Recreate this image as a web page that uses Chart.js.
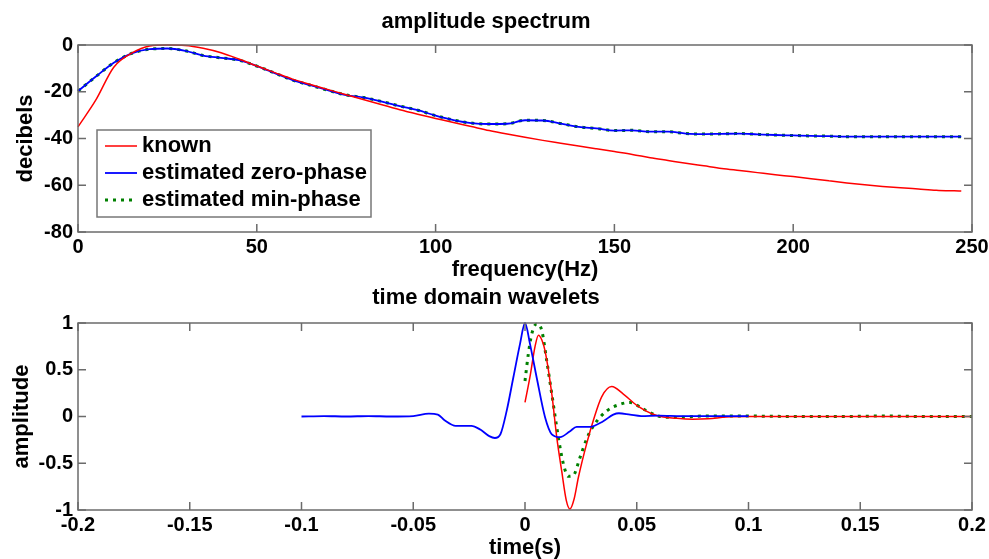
<!DOCTYPE html>
<html>
<head>
<meta charset="utf-8">
<title>amplitude spectrum / time domain wavelets</title>
<script src="https://cdn.jsdelivr.net/npm/chart.js@4.4.1/dist/chart.umd.min.js"></script>
<style>
  html, body { margin: 0; padding: 0; background: #fff; overflow: hidden; }
  #wrap { position: relative; width: 989px; height: 559px; overflow: hidden; }
  canvas { position: absolute; left: 0; }
  #spec { top: 0; }
  #wave { top: 280px; }
</style>
</head>
<body>
<div id="wrap">
  <canvas id="spec" width="989" height="290"></canvas>
  <canvas id="wave" width="989" height="281"></canvas>
</div>
<script>
/* ------------------------------
   Series names / colours
   ------------------------------ */
const seriesNames = ['known', 'estimated zero-phase', 'estimated min-phase'];
const seriesColors = ['#ff0000', '#0000ff', '#008000'];

/* Amplitude spectrum (dB vs Hz) */
const freqHz = [0, 5, 10, 15, 20, 25, 30, 35, 40, 45, 50, 55, 60, 65, 70, 75, 80, 85, 90, 95,
  100, 105, 110, 115, 120, 125, 130, 135, 140, 145, 150, 155, 160, 165, 170, 175, 180, 185, 190, 195,
  200, 205, 210, 215, 220, 225, 230, 235, 240, 245, 247];
const knownDb = [-35, -23.5, -9.5, -3.5, -0.4, 0, -0.2, -1.4, -3.3, -6, -9, -11.8, -14.6, -16.9, -19.1, -21.3, -23.4, -25.6, -27.7, -29.6,
  -31.4, -33.2, -34.9, -36.6, -38.1, -39.5, -40.8, -42, -43.2, -44.4, -45.6, -46.8, -48.2, -49.4, -50.6, -51.7, -52.8, -53.7, -54.6, -55.5,
  -56.3, -57.2, -58.1, -59, -59.8, -60.5, -61.1, -61.6, -62.1, -62.4, -62.5];
const zeroPhaseDb = [-19.7, -13.5, -7.6, -3.6, -1.8, -1.5, -2.5, -4.5, -5.5, -6.5, -9, -12, -15, -17.2, -19.4, -21.4, -22.5, -24.2, -26.1, -27.9,
  -30.2, -32.1, -33.4, -33.8, -33.7, -32.2, -32.3, -33.6, -35, -35.7, -36.6, -36.5, -37.1, -37.1, -37.9, -38.1, -38, -37.9, -38.2, -38.5,
  -38.7, -38.9, -39, -39.2, -39.2, -39.2, -39.2, -39.2, -39.2, -39.2, -39.2];
const minPhaseDb = [-19.7, -13.5, -7.6, -3.6, -1.8, -1.5, -2.5, -4.5, -5.5, -6.5, -9, -12, -15, -17.2, -19.4, -21.4, -22.5, -24.2, -26.1, -27.9,
  -30.2, -32.1, -33.4, -33.8, -33.7, -32.2, -32.3, -33.6, -35, -35.7, -36.6, -36.5, -37.1, -37.1, -37.9, -38.1, -38, -37.9, -38.2, -38.5,
  -38.7, -38.9, -39, -39.2, -39.2, -39.2, -39.2, -39.2, -39.2, -39.2, -39.2];
const freqTicks = [0, 50, 100, 150, 200, 250];
const dbTicks = [-80, -60, -40, -20, 0];

/* Time domain wavelets */
const knownT = [0, 0.0022, 0.0045, 0.006, 0.0075, 0.009, 0.012, 0.0142, 0.0164, 0.0185, 0.0201, 0.022, 0.0239, 0.0276, 0.0306,
  0.0343, 0.0388, 0.044, 0.05, 0.059, 0.068, 0.075, 0.082, 0.09, 0.1, 0.12, 0.14, 0.16, 0.18, 0.2];
const knownAmp = [0.15, 0.42, 0.75, 0.87, 0.82, 0.7, 0.24, -0.22, -0.58, -0.9, -0.99, -0.88, -0.65, -0.29, -0.04,
  0.21, 0.32, 0.24, 0.12, 0.01, -0.02, -0.03, -0.025, -0.005, 0, 0, 0, 0, 0, 0];
const zeroT = [-0.1, -0.09, -0.08, -0.07, -0.06, -0.05, -0.043, -0.039, -0.036, -0.031, -0.024, -0.02, -0.016, -0.0135, -0.011,
  -0.0082, -0.0052, -0.0022, 0, 0.0022, 0.0052, 0.009, 0.012, 0.0157, 0.02, 0.0231, 0.029, 0.035, 0.0395, 0.042,
  0.047, 0.052, 0.06, 0.07, 0.08, 0.09, 0.1];
const zeroAmp = [0, 0.005, 0, 0.005, 0, 0.005, 0.03, 0.02, -0.04, -0.1, -0.1, -0.14, -0.21, -0.23, -0.19,
  0.06, 0.42, 0.78, 1, 0.78, 0.42, -0.01, -0.19, -0.22, -0.16, -0.11, -0.11, -0.05, 0.02, 0.035,
  0.02, 0.005, 0.01, 0.005, 0.005, 0.005, 0.005];
const minT = [0, 0.0015, 0.003, 0.0052, 0.0075, 0.0097, 0.012, 0.0149, 0.0172, 0.0194, 0.0216, 0.0246, 0.0276, 0.0306,
  0.0366, 0.0425, 0.047, 0.0529, 0.0604, 0.068, 0.08, 0.1, 0.12, 0.14, 0.16, 0.18, 0.2];
const minAmp = [0.38, 0.67, 0.88, 0.99, 0.92, 0.6, 0.24, -0.22, -0.51, -0.64, -0.63, -0.44, -0.24, -0.1,
  0.06, 0.13, 0.15, 0.08, 0, -0.01, 0.005, 0.005, 0, 0, 0.005, 0, 0];
const timeTicks = [-0.2, -0.15, -0.1, -0.05, 0, 0.05, 0.1, 0.15, 0.2];
const timeTickLabels = ['-0.2', '-0.15', '-0.1', '-0.05', '0', '0.05', '0.1', '0.15', '0.2'];
const ampTicks = [-1, -0.5, 0, 0.5, 1];
const ampTickLabels = ['-1', '-0.5', '0', '0.5', '1'];

/* ------------------------------
   Defaults
   ------------------------------ */
const FAMILY = "'Liberation Sans', Arial, sans-serif";
Chart.defaults.font.family = FAMILY;
Chart.defaults.font.size = 20;
Chart.defaults.font.weight = 'bold';
Chart.defaults.color = '#000';
const bigFont = { family: FAMILY, size: 22, weight: 'bold' };

const zip = (xs, ys) => xs.map((x, i) => ({ x, y: ys[i] }));
const lineWidths = [1.5, 1.8, 3];
const lineDash = [[], [], [3, 5]];

function lineSet(i, data) {
  return {
    label: seriesNames[i],
    data,
    borderColor: seriesColors[i],
    borderWidth: lineWidths[i],
    borderDash: lineDash[i],
    pointRadius: 0,
    fill: false,
    cubicInterpolationMode: 'monotone',
    clip: false
  };
}

/* MATLAB-like box with inward ticks */
const matlabFrame = {
  id: 'matlabFrame',
  afterDatasetsDraw(chart) {
    const { ctx, chartArea: a, scales: { x, y } } = chart;
    ctx.save();
    ctx.strokeStyle = '#6b6b6b';
    ctx.lineWidth = 1.5;
    ctx.beginPath();
    x.ticks.forEach(t => {
      const px = x.getPixelForValue(t.value);
      ctx.moveTo(px, a.bottom); ctx.lineTo(px, a.bottom - 8);
      ctx.moveTo(px, a.top); ctx.lineTo(px, a.top + 8);
    });
    y.ticks.forEach(t => {
      const py = y.getPixelForValue(t.value);
      ctx.moveTo(a.left, py); ctx.lineTo(a.left + 8, py);
      ctx.moveTo(a.right, py); ctx.lineTo(a.right - 8, py);
    });
    ctx.stroke();
    ctx.strokeRect(a.left, a.top, a.right - a.left, a.bottom - a.top);

    // boxed legend inside the axes (spectrum only)
    if (chart.options.plugins.matlabFrame && chart.options.plugins.matlabFrame.legend) {
      const lx = a.left + 19, ly = a.top + 85;
      ctx.fillStyle = '#fff';
      ctx.fillRect(lx, ly, 274, 87);
      ctx.strokeStyle = '#777';
      ctx.lineWidth = 1.5;
      ctx.strokeRect(lx, ly, 274, 87);
      ctx.font = `bold 22px ${FAMILY}`;
      ctx.textBaseline = 'middle';
      ctx.textAlign = 'left';
      chart.data.datasets.forEach((ds, i) => {
        const ry = ly + 16 + i * 27;
        ctx.beginPath();
        ctx.strokeStyle = ds.borderColor;
        ctx.lineWidth = ds.borderWidth;
        ctx.setLineDash(ds.borderDash || []);
        ctx.moveTo(lx + 8, ry); ctx.lineTo(lx + 40, ry);
        ctx.stroke();
        ctx.setLineDash([]);
        ctx.fillStyle = '#000';
        ctx.fillText(ds.label, lx + 45, ry);
      });
    }
    ctx.restore();
  }
};

function axisOpts(min, max, tickVals, tickLabels, title, titlePad, fit) {
  return {
    type: 'linear',
    min, max,
    afterBuildTicks: s => { s.ticks = tickVals.map(v => ({ value: v })); },
    ticks: { padding: fit.tickPad, autoSkip: false, maxRotation: 0, callback: (v, i) => tickLabels ? tickLabels[i] : String(v) },
    grid: { display: false, drawTicks: false },
    border: { display: false },
    title: { display: true, text: title, padding: titlePad, font: bigFont },
    afterFit: fit.fn
  };
}

/* Spectrum */
new Chart(document.getElementById('spec'), {
  type: 'line',
  data: {
    datasets: [
      lineSet(0, zip(freqHz, knownDb)),
      lineSet(1, zip(freqHz, zeroPhaseDb)),
      lineSet(2, zip(freqHz, minPhaseDb))
    ]
  },
  options: {
    responsive: false,
    animation: false,
    events: [],
    layout: { padding: { left: 0, right: 17, top: 0, bottom: 0 } },
    plugins: {
      legend: { display: false },
      tooltip: { enabled: false },
      title: { display: true, text: 'amplitude spectrum', font: bigFont, padding: { top: 9, bottom: 9.6 } },
      matlabFrame: { legend: true }
    },
    scales: {
      x: axisOpts(0, 250, freqTicks, null, 'frequency(Hz)', { top: 0, bottom: 6.8 },
        { tickPad: 3, fn: s => { s.height = 58; s.paddingLeft = 0; s.paddingRight = 0; } }),
      y: axisOpts(-80, 0, dbTicks, null, 'decibels', { top: 12.8, bottom: 0 },
        { tickPad: 5, fn: s => { s.width = 78; } })
    }
  },
  plugins: [matlabFrame]
});

/* Wavelets */
new Chart(document.getElementById('wave'), {
  type: 'line',
  data: {
    datasets: [
      lineSet(1, zip(zeroT, zeroAmp)),
      lineSet(0, zip(knownT, knownAmp)),
      lineSet(2, zip(minT, minAmp))
    ]
  },
  options: {
    responsive: false,
    animation: false,
    events: [],
    layout: { padding: { left: 0, right: 17, top: 0, bottom: 0 } },
    plugins: {
      legend: { display: false },
      tooltip: { enabled: false },
      title: { display: true, text: 'time domain wavelets', font: bigFont, padding: { top: 4.8, bottom: 11.8 } },
      matlabFrame: { legend: false }
    },
    scales: {
      x: axisOpts(-0.2, 0.2, timeTicks, timeTickLabels, 'time(s)', { top: 0, bottom: 0 },
        { tickPad: 3, fn: s => { s.height = 51; s.paddingLeft = 0; s.paddingRight = 0; } }),
      y: axisOpts(-1, 1, ampTicks, ampTickLabels, 'amplitude', { top: 8.3, bottom: 0 },
        { tickPad: 5, fn: s => { s.width = 78; } })
    }
  },
  plugins: [matlabFrame]
});
</script>
</body>
</html>
